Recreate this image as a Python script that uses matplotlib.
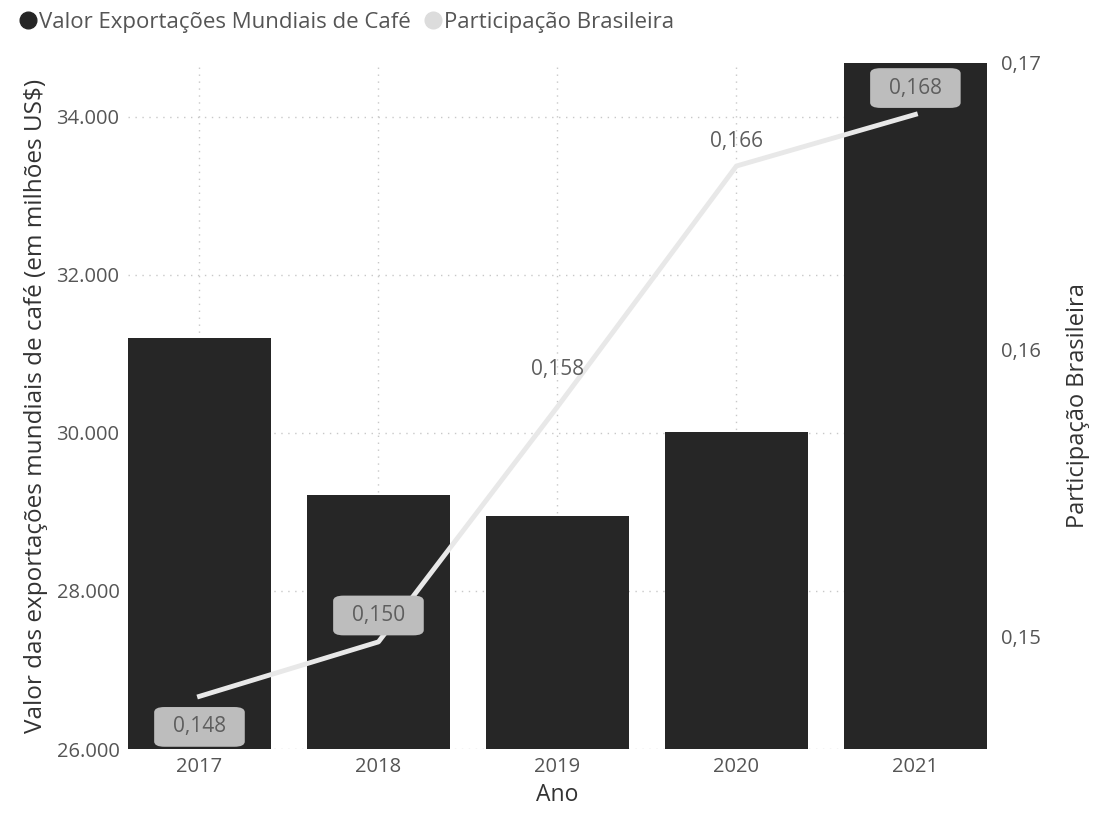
import matplotlib.pyplot as plt
from matplotlib.lines import Line2D
from matplotlib.ticker import FuncFormatter

plt.rcParams['font.family'] = ['Open Sans', 'DejaVu Sans']

# Dados
anos = ['2017', '2018', '2019', '2020', '2021']
valor_exportacoes = [31200, 29210, 28950, 30010, 34680]
participacao = [0.1479, 0.1498, 0.1580, 0.1664, 0.1682]

texto = '#555555'
fig = plt.figure(figsize=(10.93, 8.16), dpi=100)
ax = fig.add_axes([0.117, 0.082, 0.786, 0.841])
x = range(len(anos))

ax.bar(x, valor_exportacoes, width=0.8, color='#262626', zorder=2)
ax.set_ylim(26000, 34680)
ax.set_xlim(-0.4, len(anos) - 0.6)
ax.set_yticks([26000, 28000, 30000, 32000, 34000])
ax.yaxis.set_major_formatter(FuncFormatter(lambda v, p: f'{v:,.0f}'.replace(',', '.')))
ax.set_xticks(list(x))
ax.set_xticklabels(anos)
ax.grid(True, color='#c8c8c8', linestyle=(0, (1, 4)), linewidth=1, zorder=0)
ax.tick_params(axis='y', length=0, labelsize=14.5, labelcolor=texto, pad=6)
ax.tick_params(axis='x', length=0, labelsize=14.5, labelcolor=texto, pad=6)
for s in ax.spines.values():
    s.set_visible(False)
ax.set_xlabel('Ano', fontsize=16.5, color='#333333', labelpad=4)
ax.set_ylabel('Valor das exportações mundiais de café (em milhões US$)', fontsize=17.5,
              color='#333333', labelpad=6)

ax2 = ax.twinx()
ax2.plot(x, participacao, color='#e8e8e8', linewidth=3.5, zorder=3)
ax2.set_ylim(0.14606, 0.17)
ax2.set_yticks([0.15, 0.16, 0.17])
ax2.yaxis.set_major_formatter(FuncFormatter(lambda v, p: f'{v:.2f}'.replace('.', ',')))
ax2.tick_params(length=0, labelsize=14.5, labelcolor=texto, pad=10)
for s in ax2.spines.values():
    s.set_visible(False)
ax2.set_ylabel('Participação Brasileira', fontsize=17, color='#333333', labelpad=18)

# rótulos de dados (caixa cinza quando sobre a barra escura)
offsets = [(0, -22), (0, 19), (0, 27), (0, 18), (0, 19)]
caixa = [True, True, False, False, True]
for i, v in enumerate(participacao):
    kw = {}
    if caixa[i]:
        kw['bbox'] = dict(boxstyle='round,pad=0.9,rounding_size=0.5', fc='#bdbdbd',
                          ec='none', mutation_aspect=0.5)
    ax2.annotate(f'{v:.3f}'.replace('.', ','), (i, v), xytext=offsets[i],
                 textcoords='offset points', ha='center', va='center', fontsize=15,
                 color='#5e5e5e', zorder=5, **kw)

handles = [Line2D([], [], marker='o', linestyle='', color='#262626', markersize=12),
           Line2D([], [], marker='o', linestyle='', color='#dcdcdc', markersize=12)]
fig.legend(handles, ['Valor Exportações Mundiais de Café', 'Participação Brasileira'],
           loc='upper left', bbox_to_anchor=(-0.003, 1.01), ncol=2, frameon=False,
           fontsize=16, handletextpad=0.0, columnspacing=0.5, handlelength=1,
           labelcolor=texto)

fig.savefig('out.png', dpi=100)
